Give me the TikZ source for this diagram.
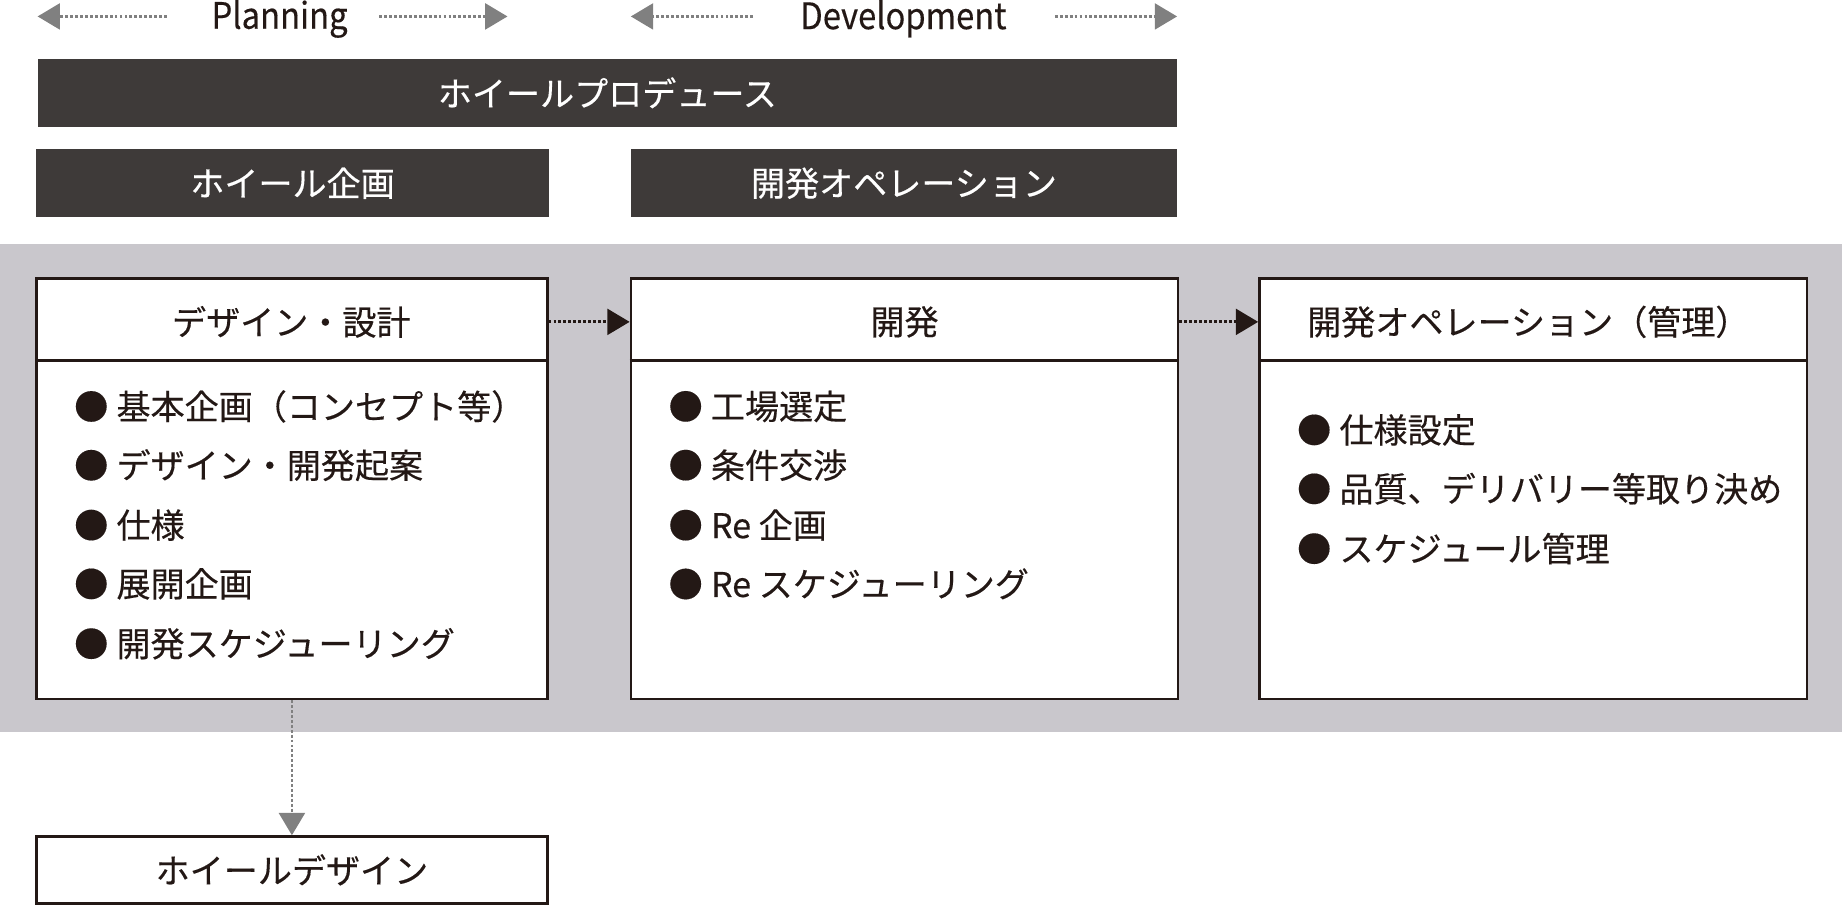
\documentclass[tikz,border=0pt]{standalone}
\usepackage{fontspec}
\setmainfont{Noto Sans CJK JP}[FakeBold=0.35]
\usetikzlibrary{arrows.meta}
\definecolor{ink}{HTML}{231815}
\definecolor{barfill}{HTML}{3E3A39}
\definecolor{bandfill}{HTML}{C9C7CC}
\definecolor{arrowgray}{HTML}{808080}
\newcommand{\itm}[1]{●\kern7pt #1}
\begin{document}
\begin{tikzpicture}[x=1pt,y=-1pt,
  jp/.style={font=\fontsize{29}{30}\selectfont},
  darkbar/.style={jp, fill=barfill, draw=none, text=white, inner sep=0pt, minimum height=58pt},
  whitebox/.style={draw=ink, line width=2pt, fill=white, inner sep=0pt},
  hdr/.style={jp, text=ink, inner sep=0pt},
  itemtext/.style={jp, text=ink, anchor=west, inner sep=0pt},
  phase/.style={font=\fontsize{31}{32}\selectfont, text=ink, inner sep=0pt, xscale=0.9, transform shape},
  grayarrow/.style={draw=arrowgray, line width=2.4pt, dash pattern=on 2.4pt off 1.8pt,
    -{Triangle[length=19pt,width=22pt,fill=arrowgray]}},
  blackarrow/.style={draw=ink, line width=2.4pt, dash pattern=on 2.4pt off 1.8pt,
    -{Triangle[length=19pt,width=22pt,fill=ink]}},
  divider/.style={draw=ink, line width=2pt}
]
\useasboundingbox (0,0) rectangle (1568,771);

% phase headers
\node[phase] (plan) at (238,16) {Planning};
\coordinate (pl1) at (142,14);
\coordinate (pl0) at (32,14);
\coordinate (pr0) at (323,14);
\coordinate (pr1) at (432,14);
\draw[grayarrow] (pl1) -- (pl0);
\draw[grayarrow] (pr0) -- (pr1);

\node[phase] (dev) at (769,16) {Development};
\coordinate (dl1) at (641,14);
\coordinate (dl0) at (537,14);
\coordinate (dr0) at (898,14);
\coordinate (dr1) at (1002,14);
\draw[grayarrow] (dl1) -- (dl0);
\draw[grayarrow] (dr0) -- (dr1);

% dark bars
\node[darkbar, minimum width=970pt] (produce) at (517,79) {ホイールプロデュース};
\node[darkbar, minimum width=436pt] (plankikaku) at (249,156) {ホイール企画};
\node[darkbar, minimum width=465pt] (devop) at (769.5,156) {開発オペレーション};

% gray band
\fill[bandfill] (0,208) rectangle (1568,623);

% boxes
\node[whitebox, minimum width=435pt, minimum height=358pt] (box1) at (248.5,416) {};
\node[whitebox, minimum width=466pt, minimum height=358pt] (box2) at (770,416) {};
\node[whitebox, minimum width=466pt, minimum height=358pt] (box3) at (1305,416) {};

\coordinate (hl) at (0,307);
\draw[divider] (box1.west |- hl) -- (box1.east |- hl);
\draw[divider] (box2.west |- hl) -- (box2.east |- hl);
\draw[divider] (box3.west |- hl) -- (box3.east |- hl);

\node[hdr] (h1) at (248,274) {デザイン・設計};
\node[hdr] (h2) at (770,274) {開発};
\node[hdr] (h3) at (1301,274) {開発オペレーション（管理）};

\draw[blackarrow] (h1 -| box1.east) -- (h1 -| box2.west);
\draw[blackarrow] (h2 -| box2.east) -- (h2 -| box3.west);

% items box1
\node[itemtext] (a1) at (63,346) {\itm{基本企画（コンセプト等）}};
\node[itemtext] (a2) at (63,396) {\itm{デザイン・開発起案}};
\node[itemtext] (a3) at (63,447) {\itm{仕様}};
\node[itemtext] (a4) at (63,497) {\itm{展開企画}};
\node[itemtext] (a5) at (63,548) {\itm{開発スケジューリング}};

% items box2
\node[itemtext] (b1) at (569,346) {\itm{工場選定}};
\node[itemtext] (b2) at (569,396) {\itm{条件交渉}};
\node[itemtext] (b3) at (569,447) {\itm{Re 企画}};
\node[itemtext] (b4) at (569,497) {\itm{Re スケジューリング}};

% items box3
\node[itemtext] (c1) at (1104,366) {\itm{仕様設定}};
\node[itemtext] (c2) at (1104,416) {\itm{品質、デリバリー等取り決め}};
\node[itemtext] (c3) at (1104,467) {\itm{スケジュール管理}};

% bottom box
\node[whitebox, hdr, minimum width=435pt, minimum height=57pt] (design) at (248.5,740.5) {ホイールデザイン};
\draw[grayarrow] (box1.south) -- (design.north);
\end{tikzpicture}
\end{document}
